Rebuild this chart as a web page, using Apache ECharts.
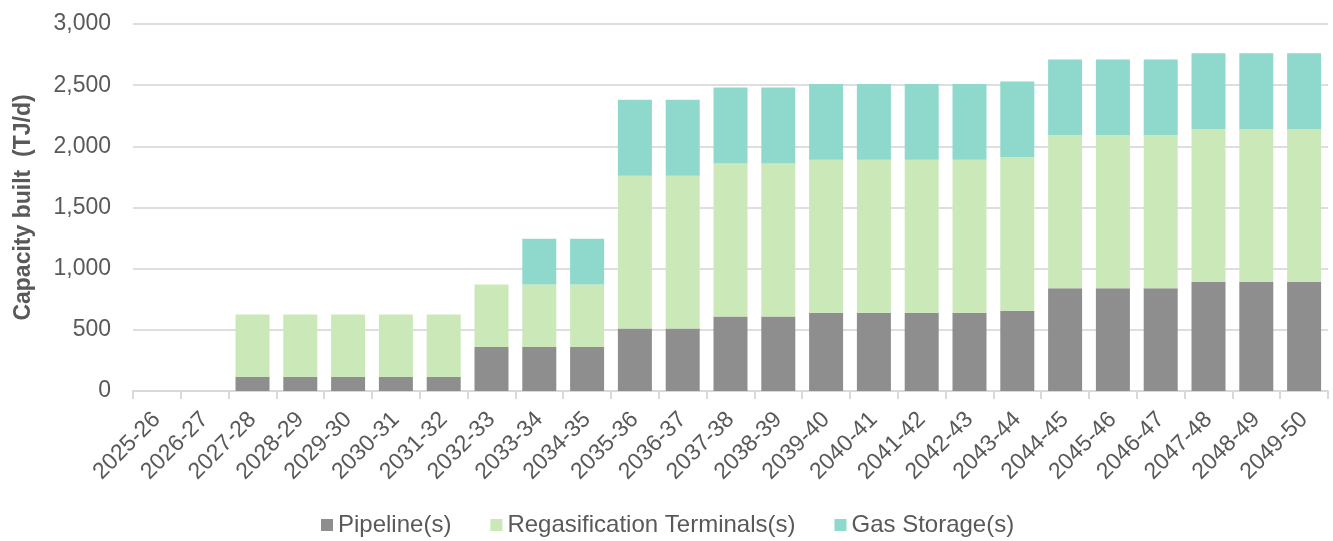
<!DOCTYPE html>
<html>
<head>
<meta charset="utf-8">
<script src="https://cdn.jsdelivr.net/npm/echarts@6/dist/echarts.min.js"></script>
<style>
  html, body { margin: 0; padding: 0; background: #ffffff; }
  #chart { width: 1333px; height: 541px; }
</style>
</head>
<body>
<div id="chart"></div>
<script>
// Financial years on the category axis
const categories = [
  '2025-26', '2026-27', '2027-28', '2028-29', '2029-30', '2030-31', '2031-32',
  '2032-33', '2033-34', '2034-35', '2035-36', '2036-37', '2037-38', '2038-39',
  '2039-40', '2040-41', '2041-42', '2042-43', '2043-44', '2044-45', '2045-46',
  '2046-47', '2047-48', '2048-49', '2049-50'
];

// Cumulative capacity built by asset type (TJ/d)
const pipeline = [
  0, 0, 115, 115, 115, 115, 115, 360, 360, 360, 510, 510, 610, 610,
  640, 640, 640, 640, 655, 840, 840, 840, 890, 890, 890
];
const regasification = [
  0, 0, 510, 510, 510, 510, 510, 510, 510, 510, 1250, 1250, 1250, 1250,
  1250, 1250, 1250, 1250, 1255, 1250, 1250, 1250, 1250, 1250, 1250
];
const gasStorage = [
  0, 0, 0, 0, 0, 0, 0, 0, 375, 375, 620, 620, 620, 620,
  620, 620, 620, 620, 620, 620, 620, 620, 620, 620, 620
];

const seriesNames = ['Pipeline(s)', 'Regasification Terminals(s)', 'Gas Storage(s)'];
const seriesColors = ['#8e8e8e', '#cbe9b8', '#8ed9cc'];

const textColor = '#595959';
const fontFamily = 'Liberation Sans, Arial, sans-serif';

const chart = echarts.init(document.getElementById('chart'));

const makeSeries = (name, data, color) => ({
  name: name,
  type: 'bar',
  stack: 'capacity',
  data: data,
  barWidth: 34,
  itemStyle: { color: color },
  emphasis: { disabled: true }
});

chart.setOption({
  animation: false,
  textStyle: { fontFamily: fontFamily },
  grid: { left: 133, right: 5, top: 24, bottom: 150 },
  legend: {
    data: seriesNames,
    left: 316,
    top: 508,
    icon: 'rect',
    itemWidth: 12,
    itemHeight: 12,
    itemGap: 39,
    textStyle: { color: textColor, fontSize: 24, fontFamily: fontFamily }
  },
  xAxis: {
    type: 'category',
    data: categories,
    axisLine: { lineStyle: { color: '#d9d9d9', width: 2 } },
    axisTick: { show: true, length: 8, lineStyle: { color: '#d9d9d9', width: 2 } },
    axisLabel: {
      rotate: 45,
      color: textColor,
      fontSize: 23,
      margin: 25,
      interval: 0
    }
  },
  yAxis: {
    type: 'value',
    min: 0,
    max: 3000,
    interval: 500,
    name: 'Capacity built  (TJ/d)',
    nameLocation: 'middle',
    nameGap: 98,
    nameTextStyle: { color: textColor, fontSize: 23, fontWeight: 'bold' },
    axisLine: { show: false },
    axisTick: { show: false },
    axisLabel: {
      color: textColor,
      fontSize: 23,
      margin: 22,
      formatter: v => v.toLocaleString('en-US')
    },
    splitLine: { lineStyle: { color: '#dedede', width: 2 } }
  },
  series: [
    makeSeries(seriesNames[0], pipeline, seriesColors[0]),
    makeSeries(seriesNames[1], regasification, seriesColors[1]),
    makeSeries(seriesNames[2], gasStorage, seriesColors[2])
  ]
});
</script>
</body>
</html>
